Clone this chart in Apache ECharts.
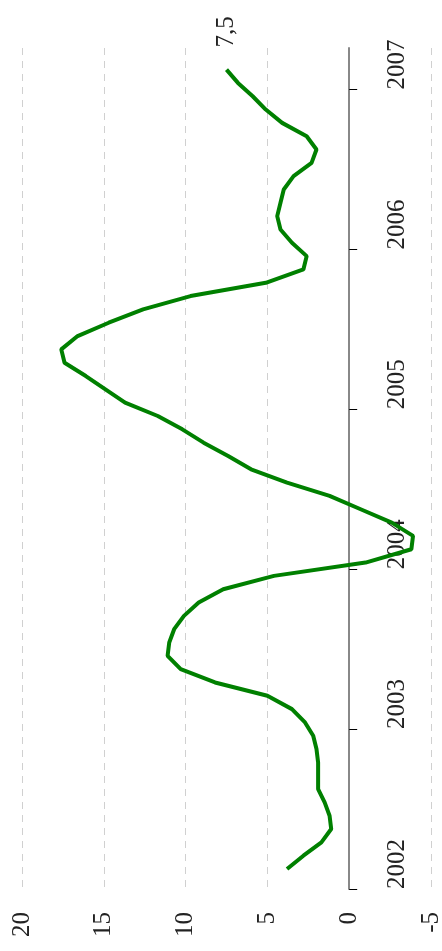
<!DOCTYPE html>
<html>
<head>
<meta charset="utf-8">
<style>
html,body{margin:0;padding:0;background:#fff;}
#chart{width:442px;height:951px;}
</style>
<script src="https://cdn.jsdelivr.net/npm/echarts@6/dist/echarts.min.js"></script>
</head>
<body>
<div id="chart"></div>
<script>
// Monthly observations, Feb 2002 .. Feb 2007
const months = [
  '2002-02','2002-03','2002-04','2002-05','2002-06','2002-07','2002-08','2002-09','2002-10','2002-11','2002-12',
  '2003-01','2003-02','2003-03','2003-04','2003-05','2003-06','2003-07','2003-08','2003-09','2003-10','2003-11','2003-12',
  '2004-01','2004-02','2004-03','2004-04','2004-05','2004-06','2004-07','2004-08','2004-09','2004-10','2004-11','2004-12',
  '2005-01','2005-02','2005-03','2005-04','2005-05','2005-06','2005-07','2005-08','2005-09','2005-10','2005-11','2005-12',
  '2006-01','2006-02','2006-03','2006-04','2006-05','2006-06','2006-07','2006-08','2006-09','2006-10','2006-11','2006-12',
  '2007-01','2007-02'
];
const values = [
  3.8, 2.8, 1.7, 1.1, 1.2, 1.5, 1.9, 1.9, 1.9, 2.0, 2.2,
  2.7, 3.5, 5.0, 8.2, 10.3, 11.1, 11.0, 10.7, 10.1, 9.2, 7.7, 4.6,
  -1.0, -3.8, -3.9, -2.6, -0.7, 1.2, 3.8, 6.0, 7.4, 8.9, 10.2, 11.7,
  13.7, 14.9, 16.1, 17.4, 17.6, 16.6, 14.7, 12.6, 9.7, 5.1, 2.8, 2.6,
  3.5, 4.2, 4.4, 4.2, 4.0, 3.4, 2.3, 2.0, 2.6, 4.1, 5.1, 5.9,
  6.8, 7.5
];
const yearTicks = [2002, 2003, 2004, 2005, 2006, 2007];
const valueTicks = [-5, 0, 5, 10, 15, 20];

const FONT = 'Liberation Serif';

function monthToYear(m) {
  const [y, mo] = m.split('-').map(Number);
  return y + (mo - 1 + 0.5) / 12;
}

const seriesData = months.map((m, i) => {
  const item = { value: [values[i], monthToYear(m)] };
  if (i === months.length - 1) {
    item.label = {
      show: true,
      position: 'top',
      distance: 22,
      rotate: 90,
      align: 'left',
      verticalAlign: 'middle',
      fontFamily: FONT,
      fontSize: 25,
      color: '#222',
      formatter: () => String(values[i]).replace('.', ',')
    };
  }
  return item;
});

const chart = echarts.init(document.getElementById('chart'), null, { renderer: 'canvas' });
chart.setOption({
  animation: false,
  backgroundColor: '#fff',
  grid: { left: 22, right: 11, top: 48, bottom: 62, containLabel: false, outerBoundsMode: 'none' },
  xAxis: {
    type: 'value',
    min: valueTicks[0],
    max: valueTicks[valueTicks.length - 1],
    interval: 5,
    inverse: true,
    axisLine: { show: false },
    axisTick: { show: false },
    splitLine: { show: true, lineStyle: { color: '#d0d0d0', width: 1, type: [7, 6] } },
    axisLabel: {
      rotate: 90,
      align: 'right',
      verticalAlign: 'middle',
      margin: 23,
      fontFamily: FONT,
      fontSize: 25,
      color: '#222'
    }
  },
  yAxis: {
    type: 'value',
    position: 'right',
    min: yearTicks[0],
    max: 2007.26,
    axisLine: { show: true, onZero: true, lineStyle: { color: '#888', width: 2 } },
    axisTick: { show: true, length: 8, customValues: yearTicks, lineStyle: { color: '#000', width: 1 } },
    splitLine: { show: false },
    axisLabel: {
      customValues: yearTicks,
      rotate: 90,
      align: 'left',
      verticalAlign: 'middle',
      margin: -34,
      fontFamily: FONT,
      fontSize: 25,
      color: '#222',
      formatter: v => String(Math.round(v))
    }
  },
  series: [{
    type: 'line',
    data: seriesData,
    showSymbol: true,
    symbol: 'circle',
    symbolSize: 0,
    smooth: false,
    lineStyle: { color: '#008000', width: 4 },
    itemStyle: { color: '#008000' },
    emphasis: { disabled: true }
  }]
});
</script>
</body>
</html>
